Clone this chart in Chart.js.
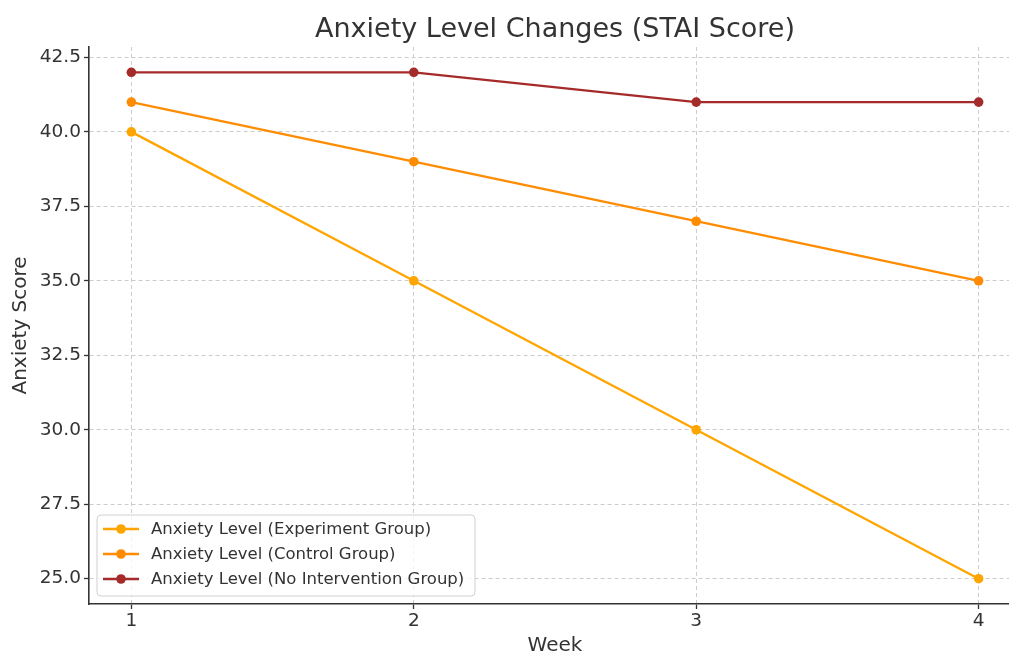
<!DOCTYPE html>
<html>
<head>
<meta charset="utf-8">
<script src="https://cdn.jsdelivr.net/npm/chart.js@4.4.0/dist/chart.umd.min.js"></script>
<style>
  html, body { margin: 0; padding: 0; background: #fff; overflow: hidden; }
  #wrap { width: 1040px; height: 658px; }
</style>
</head>
<body>
<div id="wrap"><canvas id="chart" width="1040" height="658"></canvas></div>
<script>
const weeks = [1, 2, 3, 4];
const experimentGroup = [40, 35, 30, 25];
const controlGroup = [41, 39, 37, 35];
const noInterventionGroup = [42, 42, 41, 41];
const yTicks = [25, 27.5, 30, 32.5, 35, 37.5, 40, 42.5];
const chartTitle = 'Anxiety Level Changes (STAI Score)';

const textColor = '#333333';
const font = 'DejaVu Sans';

function points(values) {
  return weeks.map((w, i) => ({ x: w, y: values[i] }));
}

function series(label, values, color) {
  return {
    label: label,
    data: points(values),
    borderColor: color,
    backgroundColor: color,
    borderWidth: 2.3,
    pointRadius: 4.8,
    pointHoverRadius: 4.8,
    pointBorderWidth: 0,
    tension: 0
  };
}

// title centred over the plot area, not the canvas
const plotTitle = {
  id: 'plotTitle',
  afterDraw(chart) {
    const ctx = chart.ctx;
    const a = chart.chartArea;
    ctx.save();
    ctx.font = '27px "' + font + '"';
    ctx.fillStyle = textColor;
    ctx.textAlign = 'center';
    ctx.textBaseline = 'middle';
    ctx.fillText(chartTitle, (a.left + a.right) / 2, 30);
    ctx.restore();
  }
};

// legend drawn inside the plot, lower left
const innerLegend = {
  id: 'innerLegend',
  afterDraw(chart) {
    const ctx = chart.ctx;
    const x = chart.chartArea.left + 8, w = 378, h = 81;
    const y = chart.chartArea.bottom - 8 - h;
    ctx.save();
    ctx.beginPath();
    ctx.roundRect(x, y, w, h, 4);
    ctx.fillStyle = 'rgba(255,255,255,0.8)';
    ctx.fill();
    ctx.strokeStyle = '#d0d0d0';
    ctx.lineWidth = 1;
    ctx.stroke();
    ctx.font = '16.5px "' + font + '"';
    ctx.textBaseline = 'middle';
    chart.data.datasets.forEach((ds, i) => {
      const cy = y + 14 + i * 25;
      ctx.strokeStyle = ds.borderColor;
      ctx.lineWidth = 2.3;
      ctx.beginPath();
      ctx.moveTo(x + 6, cy);
      ctx.lineTo(x + 42, cy);
      ctx.stroke();
      ctx.fillStyle = ds.borderColor;
      ctx.beginPath();
      ctx.arc(x + 24, cy, 4.8, 0, Math.PI * 2);
      ctx.fill();
      ctx.fillStyle = textColor;
      ctx.fillText(ds.label, x + 54, cy + 1);
    });
    ctx.restore();
  }
};

new Chart(document.getElementById('chart'), {
  type: 'line',
  data: {
    datasets: [
      series('Anxiety Level (Experiment Group)', experimentGroup, '#FFA500'),
      series('Anxiety Level (Control Group)', controlGroup, '#FF8C00'),
      series('Anxiety Level (No Intervention Group)', noInterventionGroup, '#A52A2A')
    ]
  },
  options: {
    responsive: false,
    animation: false,
    layout: { padding: { left: 0, right: 19, top: 47, bottom: 0 } },
    plugins: {
      legend: { display: false },
      tooltip: { enabled: false },
      title: { display: false }
    },
    scales: {
      x: {
        type: 'linear',
        min: 0.85,
        max: 4.15,
        afterBuildTicks: s => { s.ticks = weeks.map(v => ({ value: v })); },
        afterFit: s => { s.height = 54; },
        ticks: { color: textColor, font: { family: font, size: 18.5 }, padding: 1, maxRotation: 0 },
        grid: { color: '#cccccc', lineWidth: 1, tickLength: 5, tickColor: textColor, tickWidth: 1.3 },
        border: { display: true, color: textColor, width: 1.6, dash: [4, 3] },
        title: { display: true, text: 'Week', color: textColor, font: { family: font, size: 20 }, padding: { top: 0, bottom: 0 } }
      },
      y: {
        min: 24.15,
        max: 42.85,
        afterBuildTicks: s => { s.ticks = yTicks.map(v => ({ value: v })); },
        afterFit: s => { s.width = 89; },
        ticks: { color: textColor, font: { family: font, size: 18.5 }, padding: 3, callback: v => v.toFixed(1) },
        grid: { color: '#cccccc', lineWidth: 1, tickLength: 5, tickColor: textColor, tickWidth: 1.3 },
        border: { display: true, color: textColor, width: 1.6, dash: [4, 3] },
        title: { display: true, text: 'Anxiety Score', color: textColor, font: { family: font, size: 20 }, padding: { top: 9, bottom: 0 } }
      }
    }
  },
  plugins: [plotTitle, innerLegend]
});
</script>
</body>
</html>
